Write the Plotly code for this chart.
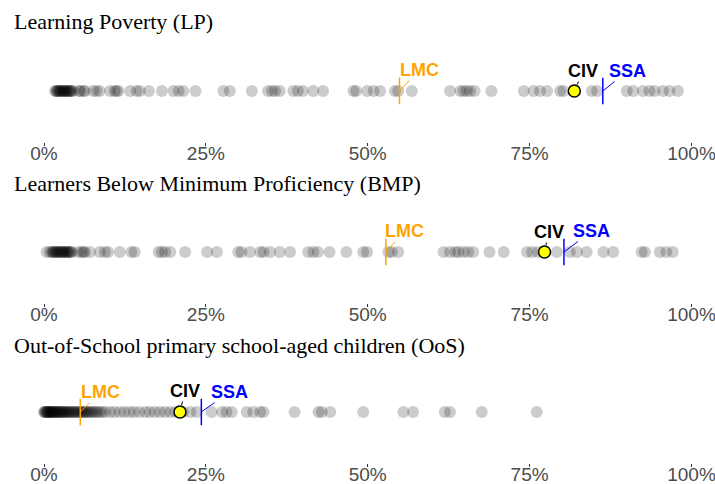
import plotly.graph_objects as go

# ---------------- data (percent) ----------------
panel_titles = [
    "Learning Poverty (LP)",
    "Learners Below Minimum Proficiency (BMP)",
    "Out-of-School primary school-aged children (OoS)",
]

lp_values = [1.7, 1.9, 2.0, 2.1, 2.3, 2.4, 2.5, 2.7, 2.8, 3.0, 3.1, 3.2, 3.4, 3.5,
             3.7, 3.8, 4.0, 4.1, 4.2, 4.5, 5.4, 5.6, 6.1, 6.3, 7.6, 8.1, 8.6, 10.2,
             10.9, 11.2, 11.5, 13.3, 14.3, 14.8, 16.2, 18.2, 20.0, 20.8, 21.5, 23.4,
             27.7, 28.7, 32.1, 34.6, 35.2, 35.7, 36.4, 38.5, 39.2, 40.0, 41.6, 43.1,
             47.8, 48.2, 49.9, 50.9, 51.9, 54.2, 54.7, 56.8, 62.7, 64.3, 64.8, 65.3,
             65.8, 66.5, 69.1, 74.1, 75.6, 76.6, 77.7, 79.7, 80.2, 84.6, 85.4, 90.0,
             91.0, 92.5, 93.5, 94.3, 95.6, 96.6, 97.9]

bmp_values = [0.4, 0.9, 1.2, 1.4, 1.5, 1.7, 1.9, 2.0, 2.2, 2.3, 2.5, 2.7, 2.8, 3.0,
              3.1, 3.3, 3.5, 3.6, 3.8, 4.0, 4.1, 4.3, 5.3, 5.8, 6.1, 6.3, 7.1, 8.6,
              9.4, 9.9, 11.7, 13.5, 14.0, 17.7, 18.2, 18.7, 19.5, 21.8, 25.2, 26.7,
              30.0, 30.5, 31.8, 33.4, 33.9, 34.9, 36.4, 38.0, 40.8, 41.6, 42.3, 44.1,
              46.7, 49.3, 49.9, 53.2, 53.7, 54.7, 61.7, 62.7, 63.5, 64.0, 64.8, 65.5,
              66.3, 68.8, 71.0, 74.6, 75.4, 76.3, 79.2, 81.2, 82.3, 83.8, 86.4, 87.9,
              92.3, 92.8, 95.1, 96.1, 97.1]

oos_values = [0.0, 0.1, 0.2, 0.3, 0.4, 0.5, 0.6, 0.7, 0.8, 0.9, 1.0, 1.1, 1.2, 1.3,
              1.4, 1.5, 1.6, 1.8, 1.9, 2.0, 2.1, 2.3, 2.4, 2.5, 2.7, 2.8, 3.0, 3.1,
              3.3, 3.4, 3.6, 3.8, 3.9, 4.1, 4.3, 4.5, 4.7, 4.9, 5.1, 5.3, 5.5, 5.7,
              5.9, 6.1, 6.3, 6.5, 6.7, 6.9, 7.2, 7.4, 7.7, 8.0, 8.3, 8.6, 9.0, 9.4,
              10.2, 10.9, 11.7, 12.4, 13.2, 13.9, 14.7, 15.6, 16.3, 17.1, 17.9,
              18.7, 19.5, 20.3, 21.5, 22.6, 23.6, 25.9, 27.5, 28.2, 29.0, 31.3,
              32.3, 33.4, 33.9, 38.7, 42.4, 42.9, 44.2, 49.3, 55.5, 57.0, 61.9,
              62.7, 67.6, 76.1]

panel_values = [lp_values, bmp_values, oos_values]

lmc_values = [54.9, 52.8, 5.6]
civ_values = [81.9, 77.3, 21.0]
ssa_values = [86.3, 80.3, 24.3]

tick_vals = [0, 25, 50, 75, 100]
tick_text = ["0%", "25%", "50%", "75%", "100%"]

# ---------------- layout helpers ----------------
W, H = 715, 484
X0, X100 = 44.0, 691.5
px_per_pct = (X100 - X0) / 100.0
x_range = [-X0 / px_per_pct, 100 + (W - X100) / px_per_pct]

def py(p):
    return 1 - p / H

row_px = [(40, 142), (201, 303), (361, 463)]
title_px = [22, 183, 345]

# label offsets (ax, ay) in pixels
lmc_off = [(20, -21), (19, -21), (20, -20)]
civ_off = [(9, -20), (4, -20), (5, -21)]
ssa_off = [(25, -20), (28, -21), (28, -20)]

ORANGE = "#FFA500"
BLUE = "#0000FF"

fig = go.Figure()
layout = dict(
    width=W, height=H,
    margin=dict(l=0, r=0, t=0, b=0),
    paper_bgcolor="white", plot_bgcolor="white",
    showlegend=False,
)
annotations = []

for i in range(3):
    xa = "x" if i == 0 else f"x{i+1}"
    ya = "y" if i == 0 else f"y{i+1}"
    xkey = "xaxis" if i == 0 else f"xaxis{i+1}"
    ykey = "yaxis" if i == 0 else f"yaxis{i+1}"
    top, bot = row_px[i]
    layout[xkey] = dict(
        domain=[0, 1], range=x_range, anchor=ya,
        showgrid=False, zeroline=False, showline=False,
        tickvals=tick_vals, ticktext=tick_text,
        ticks="outside", ticklen=3, tickcolor="#333333", tickwidth=1,
        ticklabelstandoff=-9, ticklabeloverflow="allow",
        tickfont=dict(family="Liberation Sans, Arial", size=19, color="#4D4D4D"),
        fixedrange=True, automargin=False,
    )
    layout[ykey] = dict(
        domain=[py(bot), py(top)], range=[-1, 1], anchor=xa,
        visible=False, fixedrange=True,
    )
    vals = panel_values[i]
    fig.add_trace(go.Scatter(
        x=vals, y=[0] * len(vals), xaxis=xa, yaxis=ya, mode="markers",
        marker=dict(size=12, color="rgba(0,0,0,0.2)", line=dict(width=0)),
        cliponaxis=False, hoverinfo="x",
    ))
    # LMC and SSA segments
    for val, col in [(lmc_values[i], ORANGE), (ssa_values[i], BLUE)]:
        fig.add_trace(go.Scatter(
            x=[val], y=[0], xaxis=xa, yaxis=ya, mode="markers",
            marker=dict(symbol="line-ns-open", size=19, color=col,
                        line=dict(width=1.5, color=col)),
            cliponaxis=False,
        ))
    # CIV point
    fig.add_trace(go.Scatter(
        x=[civ_values[i]], y=[0], xaxis=xa, yaxis=ya, mode="markers",
        marker=dict(size=12, color="#FFFF00", line=dict(width=1.5, color="black")),
        cliponaxis=False,
    ))
    lab_font = dict(family="Liberation Sans, Arial", size=18)
    for name, val, off, col, stand in [
        ("LMC", lmc_values[i], lmc_off[i], ORANGE, 0),
        ("CIV", civ_values[i], civ_off[i], "black", 7),
        ("SSA", ssa_values[i], ssa_off[i], BLUE, 0),
    ]:
        annotations.append(dict(
            x=val, y=0, xref=xa, yref=ya, text=f"<b>{name}</b>",
            showarrow=True, arrowhead=0, arrowwidth=1, arrowcolor=col,
            ax=off[0], ay=off[1], standoff=stand,
            font=dict(color=col, **lab_font), borderpad=0,
        ))
    annotations.append(dict(
        x=12 / W, y=py(title_px[i]), xref="paper", yref="paper",
        xanchor="left", yanchor="middle", showarrow=False,
        text=panel_titles[i],
        font=dict(family="Liberation Serif, Times New Roman", size=22, color="black"),
    ))

layout["annotations"] = annotations
fig.update_layout(**layout)
fig.write_html("out.html", config={"displayModeBar": False},
               post_script="document.body.style.margin='0';")
